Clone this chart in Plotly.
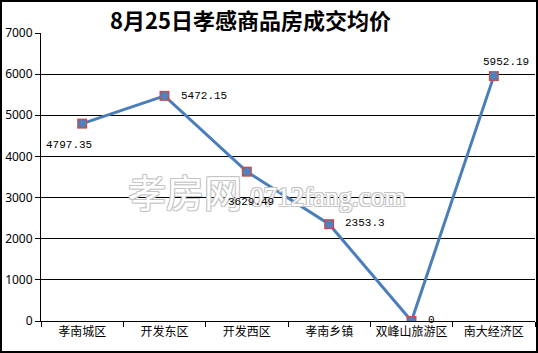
import plotly.graph_objects as go

categories = ["孝南城区", "开发东区", "开发西区", "孝南乡镇", "双峰山旅游区", "南大经济区"]
prices = [4797.35, 5472.15, 3629.49, 2353.3, 0, 5952.19]
label_texts = ["4797.35", "5472.15", "3629.49", "2353.3", "0", "5952.19"]
y_ticks = [0, 1000, 2000, 3000, 4000, 5000, 6000, 7000]

W, H = 538, 353
L, R, T, B = 41, 3, 33, 32
pw, ph = W - L - R, H - T - B

def px(x):
    return (x - L) / pw

def py(y):
    return (H - B - y) / ph

fig = go.Figure()
fig.add_trace(go.Scatter(
    x=categories, y=prices, mode="lines",
    line=dict(color="#4A7EBB", width=3), hoverinfo="skip", showlegend=False))
fig.add_trace(go.Scatter(
    x=categories, y=prices, mode="markers",
    marker=dict(symbol="square", size=10, color="#C0504D", line=dict(width=0)),
    showlegend=False))
fig.add_trace(go.Scatter(
    x=categories, y=prices, mode="markers",
    marker=dict(symbol="circle", size=8, color="#4F81BD", line=dict(width=0)),
    showlegend=False))

annotations = []

# watermark (drawn first, behind labels)
wm_shadow = "-1px -1px 0 #c4c4c4, 1px -1px 0 #c4c4c4, -1px 1px 0 #c4c4c4, 1px 1px 0 #c4c4c4"
annotations.append(dict(
    x=px(185), y=py(190), xref="paper", yref="paper", text="孝房网", showarrow=False,
    xanchor="center", yanchor="middle",
    font=dict(family="Noto Sans CJK SC", size=38, color="#ffffff", shadow=wm_shadow)))
annotations.append(dict(
    x=px(327), y=py(197), xref="paper", yref="paper", text="0712fang.com", showarrow=False,
    xanchor="center", yanchor="middle",
    font=dict(family="Liberation Serif, serif", size=27, color="#ffffff", shadow=wm_shadow)))

# data labels: (xshift, yshift, xanchor)
offsets = [(-13, -21, "center"), (14, 0, "left"), (4, -30, "center"),
           (14, 1, "left"), (14, 1, "left"), (12, 14, "center")]
for c, v, t, (dx, dy, xa) in zip(categories, prices, label_texts, offsets):
    annotations.append(dict(
        x=c, y=v, text=t, showarrow=False, xanchor=xa, yanchor="middle",
        xshift=dx, yshift=dy,
        font=dict(family="Liberation Mono, DejaVu Sans Mono, monospace", size=11, color="#000")))

# title
annotations.append(dict(
    x=px(250), y=py(19), xref="paper", yref="paper",
    text="<b>8月25日孝感商品房成交均价</b>", showarrow=False,
    xanchor="center", yanchor="middle",
    font=dict(family="Noto Sans CJK SC", size=22, color="#000")))

fig.update_layout(
    width=W, height=H,
    margin=dict(l=L, r=R, t=T, b=B, pad=0, autoexpand=False),
    paper_bgcolor="white", plot_bgcolor="white",
    annotations=annotations,
    shapes=[dict(type="rect", xref="paper", yref="paper",
                 x0=px(1), x1=px(537), y0=py(352), y1=py(1),
                 line=dict(color="black", width=2), layer="above")],
    xaxis=dict(
        type="category", range=[-0.5, 5.5], showgrid=False,
        showline=True, linecolor="black", linewidth=1,
        ticks="outside", tickson="boundaries", ticklen=5, tickcolor="black",
        tickangle=0, automargin=False,
        tickfont=dict(family="Noto Sans CJK SC", size=12, color="#000"),
        fixedrange=True),
    yaxis=dict(
        range=[0, 7000], tickvals=y_ticks, ticktext=[str(v) for v in y_ticks],
        showgrid=True, gridcolor="black", gridwidth=1,
        showline=True, linecolor="black", linewidth=1,
        ticks="outside", ticklen=5, tickcolor="black", automargin=False,
        tickfont=dict(family="Noto Sans, sans-serif", size=12, color="#000"),
        zeroline=False, fixedrange=True),
)

fig.write_html("out.html")
